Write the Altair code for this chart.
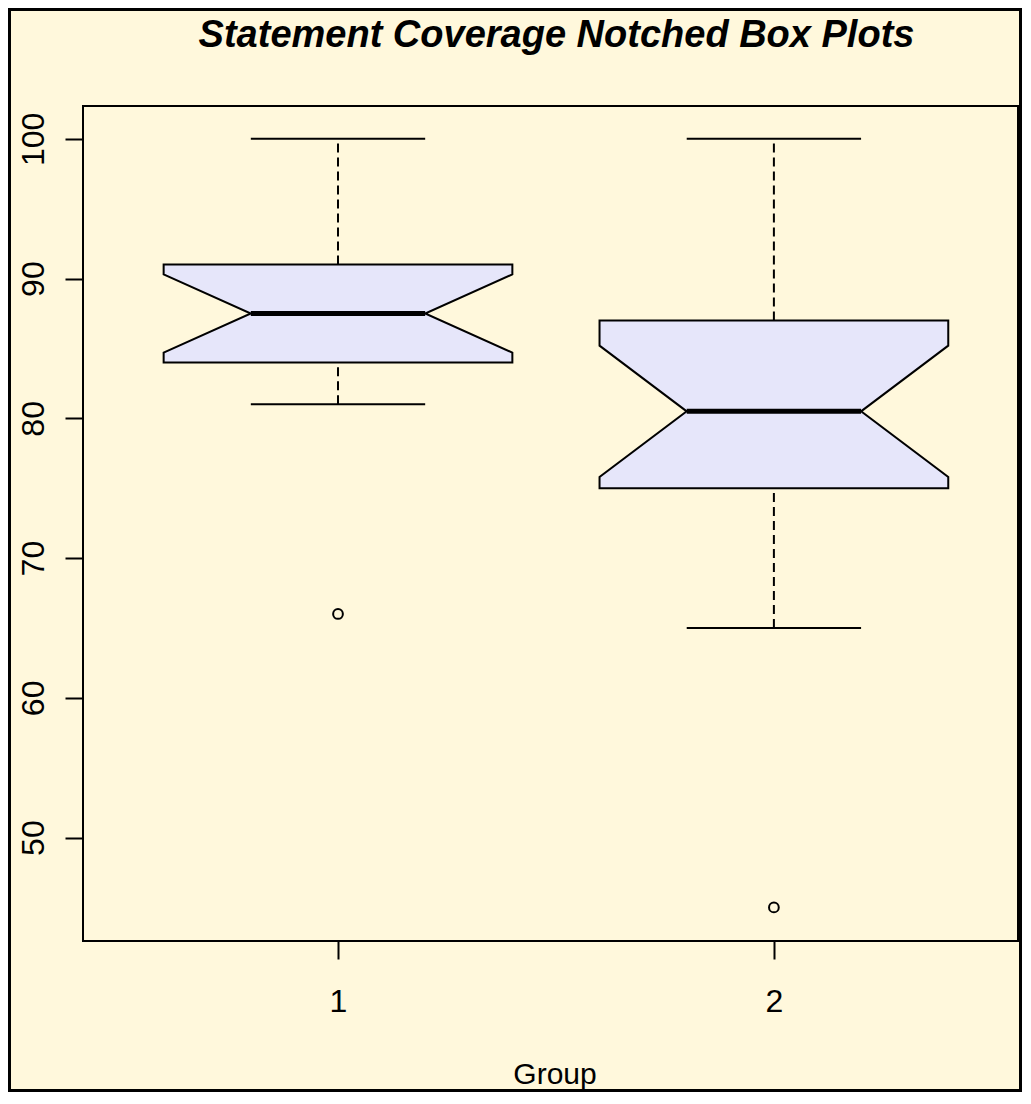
import altair as alt
import pandas as pd

# ---- data ----
groups = [1, 2]
whisker_lo = [81, 65]
q1 = [84, 75]
notch_lo = [84.7, 75.8]
median = [87.5, 80.5]
notch_hi = [90.3, 85.2]
q3 = [91, 87]
whisker_hi = [100, 100]
outlier_group = [1, 2]
outlier_value = [66, 45]
x_ticks = [1, 2]
y_ticks = [50, 60, 70, 80, 90, 100]
title_text = ["Statement Coverage Notched Box Plots"]

BOX_HALF = 0.4      # boxwex 0.8
NOTCH_HALF = 0.2
STAPLE_HALF = 0.2

FONT = "Liberation Sans"
BG = "#FFF8DC"
BOXFILL = "#E6E6FA"

PAD_L, PAD_T, PAD_R, PAD_B = 75, 98, 4, 151
W, H = 935, 835

# notched polygon outline (horizontal area: x-extent as a function of y)
rows = []
for i, g in enumerate(groups):
    for yv, half in [(q1[i], BOX_HALF), (notch_lo[i], BOX_HALF), (median[i], NOTCH_HALF),
                     (notch_hi[i], BOX_HALF), (q3[i], BOX_HALF)]:
        rows.append({"g": g, "y": yv, "xl": g - half, "xr": g + half})
poly = pd.DataFrame(rows)

stats = pd.DataFrame({
    "g": groups,
    "wlo": whisker_lo,
    "q1": q1,
    "med": median,
    "q3": q3,
    "whi": whisker_hi,
    "ml": [g - NOTCH_HALF for g in groups],
    "mr": [g + NOTCH_HALF for g in groups],
    "sl": [g - STAPLE_HALF for g in groups],
    "sr": [g + STAPLE_HALF for g in groups],
})
outl = pd.DataFrame({"g": outlier_group, "v": outlier_value})

xscale = alt.Scale(domain=[0.415, 2.56], nice=False, zero=False)
yscale = alt.Scale(domain=[42.6, 102.35], nice=False, zero=False)

xaxis = alt.Axis(
    values=x_ticks, title="Group", grid=False, domain=False,
    tickSize=18, tickWidth=2, tickColor="black",
    labelFont=FONT, labelFontSize=32, labelColor="black",
    labelBaseline="alphabetic", labelPadding=52,
    titleFont=FONT, titleFontSize=30, titleFontWeight="normal", titleColor="black",
    titleBaseline="alphabetic", titleY=142, titleX=471.5, titleAlign="center",
)
yaxis = alt.Axis(
    values=y_ticks, title=None, grid=False, domain=False,
    tickSize=18, tickWidth=2, tickColor="black",
    labelFont=FONT, labelFontSize=32, labelColor="black",
    labelAngle=270, labelAlign="center", labelBaseline="alphabetic", labelPadding=22,
)


def X(field):
    return alt.X(field, scale=xscale, axis=xaxis, title="Group")


def Y(field):
    return alt.Y(field, scale=yscale, axis=yaxis, title=None)


boxes = alt.Chart(poly).mark_area(
    orient="horizontal", fill=BOXFILL, fillOpacity=1, stroke="black", strokeWidth=2
).encode(
    y=Y("y:Q"),
    x=X("xl:Q"),
    x2="xr:Q",
    detail="g:N",
)

base = alt.Chart(stats)
whisk_up = base.mark_rule(color="black", strokeWidth=2, strokeDash=[9, 5]).encode(
    x=X("g:Q"), y=Y("q3:Q"), y2="whi:Q",
)
whisk_dn = base.mark_rule(color="black", strokeWidth=2, strokeDash=[9, 5]).encode(
    x=X("g:Q"), y=Y("wlo:Q"), y2="q1:Q",
)
staple_hi = base.mark_rule(color="black", strokeWidth=2).encode(
    x=X("sl:Q"), x2="sr:Q", y=Y("whi:Q"),
)
staple_lo = base.mark_rule(color="black", strokeWidth=2).encode(
    x=X("sl:Q"), x2="sr:Q", y=Y("wlo:Q"),
)
med = base.mark_rule(color="black", strokeWidth=5).encode(
    x=X("ml:Q"), x2="mr:Q", y=Y("med:Q"),
)
pts = alt.Chart(outl).mark_point(
    shape="circle", filled=False, color="black", size=95, strokeWidth=2, opacity=1
).encode(
    x=X("g:Q"), y=Y("v:Q"),
)
border = alt.Chart(pd.DataFrame({"k": [0]})).mark_rect(
    fillOpacity=0, stroke="black", strokeWidth=3
).encode(
    x=alt.value(-PAD_L + 1.5), x2=alt.value(W + PAD_R - 1.5),
    y=alt.value(-PAD_T + 1.5), y2=alt.value(H + PAD_B - 1.5),
)
title = alt.Chart(pd.DataFrame({"t": title_text})).mark_text(
    font=FONT, fontSize=38, fontWeight="bold", fontStyle="italic", color="black",
    align="center", baseline="alphabetic",
).encode(
    text="t:N", x=alt.value(473.5), y=alt.value(-59),
)

chart = alt.layer(
    boxes, whisk_up, whisk_dn, staple_hi, staple_lo, med, pts, border, title
).properties(
    width=W, height=H,
    autosize=alt.AutoSizeParams(type="none"),
    padding={"left": PAD_L, "top": PAD_T, "right": PAD_R, "bottom": PAD_B},
    background=BG,
).configure_view(stroke="black", strokeWidth=2)

chart.save("out.html", embed_options={"renderer": "svg", "actions": False})
